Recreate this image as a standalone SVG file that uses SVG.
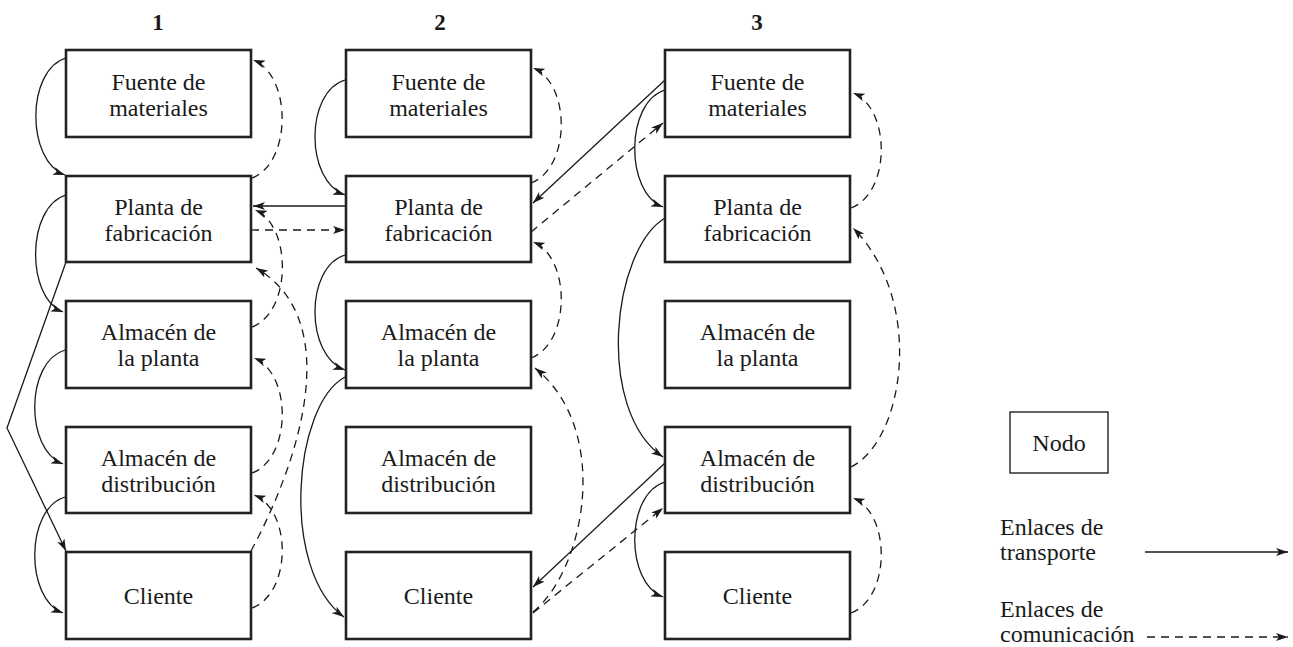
<svg xmlns="http://www.w3.org/2000/svg" width="1293" height="647" viewBox="0 0 1293 647">
<defs>
<marker id="ah" markerWidth="12" markerHeight="8" refX="12" refY="4" orient="auto" markerUnits="userSpaceOnUse">
<path d="M0,0 L12,4 L0,8 L3,4 z" fill="#1a1a1a"/>
</marker>
<style>
.box{fill:#fff;stroke:#222;stroke-width:2.6}
.lbox{fill:#fff;stroke:#222;stroke-width:1.4}
.t{font-family:"Liberation Serif","Times New Roman",serif;font-size:24px;fill:#1a1a1a;text-anchor:middle}
.tl{font-family:"Liberation Serif","Times New Roman",serif;font-size:24px;fill:#1a1a1a}
.h{font-family:"Liberation Serif","Times New Roman",serif;font-size:23px;font-weight:bold;fill:#1a1a1a;text-anchor:middle}
.s{fill:none;stroke:#1a1a1a;stroke-width:1.3;marker-end:url(#ah)}
.d{fill:none;stroke:#1a1a1a;stroke-width:1.3;stroke-dasharray:8 6;marker-end:url(#ah)}
</style>
</defs>
<rect width="1293" height="647" fill="#fff"/>

<g id="headers">
<text class="h" x="158" y="30">1</text>
<text class="h" x="440" y="30">2</text>
<text class="h" x="757" y="30">3</text>
</g>

<g id="connectors">
<!-- column 1 solid left -->
<path class="s" d="M66,58 C26,70 26,161 65,175"/>
<path class="s" d="M66,195 C26,207 26,298 63,312"/>
<path class="s" d="M65,350 C25,362 25,450 63,464"/>
<path class="s" d="M65,497 C25,509 25,599 63,613"/>
<path class="s" d="M66,262 L7,428 L66,551"/>
<!-- column 1 dashed right -->
<path class="d" d="M252,178 C292,163 292,75 253,60"/>
<path class="d" d="M252,327 C292,312 292,225 255,210"/>
<path class="d" d="M252,473 C292,458 292,373 254,358"/>
<path class="d" d="M252,608 C292,593 292,510 254,495"/>
<path class="d" d="M251,551 C300,460 345,320 256,268"/>
<!-- between columns 1 and 2 -->
<path class="s" d="M346,206 L253,206"/>
<path class="d" d="M251,230 L345,230"/>
<!-- column 2 solid left -->
<path class="s" d="M345,80 C305,92 305,181 345,195"/>
<path class="s" d="M345,255 C305,267 305,356 345,370"/>
<path class="s" d="M345,377 C293,405 280,570 344,617"/>
<!-- column 2 dashed right -->
<path class="d" d="M531,183 C571,168 571,83 533,68"/>
<path class="d" d="M531,358 C571,343 571,257 533,242"/>
<path class="d" d="M533,612 C585,570 612,430 535,368"/>
<!-- between columns 2 and 3 -->
<path class="s" d="M665,80 L533,203"/>
<path class="d" d="M531,232 L663,123"/>
<path class="s" d="M665,463 L533,587"/>
<path class="d" d="M533,613 L663,508"/>
<!-- column 3 solid left -->
<path class="s" d="M665,90 C625,102 625,193 663,207"/>
<path class="s" d="M665,218 C612,250 595,410 663,457"/>
<path class="s" d="M665,482 C625,494 625,583 663,597"/>
<!-- column 3 dashed right -->
<path class="d" d="M851,208 C891,193 891,108 853,93"/>
<path class="d" d="M851,467 C905,440 925,300 853,228"/>
<path class="d" d="M851,613 C891,598 891,513 853,498"/>
</g>

<g id="c1-fuente"><rect class="box" x="66" y="50" width="185" height="87"/><text class="t" x="158.5" y="90">Fuente de</text><text class="t" x="158.5" y="116">materiales</text></g>
<g id="c1-planta"><rect class="box" x="66" y="176" width="185" height="86"/><text class="t" x="158.5" y="215">Planta de</text><text class="t" x="158.5" y="241">fabricación</text></g>
<g id="c1-almplanta"><rect class="box" x="66" y="301" width="185" height="87"/><text class="t" x="158.5" y="340">Almacén de</text><text class="t" x="158.5" y="366">la planta</text></g>
<g id="c1-distrib"><rect class="box" x="66" y="427" width="185" height="86"/><text class="t" x="158.5" y="466">Almacén de</text><text class="t" x="158.5" y="492">distribución</text></g>
<g id="c1-cliente"><rect class="box" x="66" y="552" width="185" height="87"/><text class="t" x="158.5" y="604">Cliente</text></g>

<g id="c2-fuente"><rect class="box" x="346" y="50" width="185" height="87"/><text class="t" x="438.5" y="90">Fuente de</text><text class="t" x="438.5" y="116">materiales</text></g>
<g id="c2-planta"><rect class="box" x="346" y="176" width="185" height="86"/><text class="t" x="438.5" y="215">Planta de</text><text class="t" x="438.5" y="241">fabricación</text></g>
<g id="c2-almplanta"><rect class="box" x="346" y="301" width="185" height="87"/><text class="t" x="438.5" y="340">Almacén de</text><text class="t" x="438.5" y="366">la planta</text></g>
<g id="c2-distrib"><rect class="box" x="346" y="427" width="185" height="86"/><text class="t" x="438.5" y="466">Almacén de</text><text class="t" x="438.5" y="492">distribución</text></g>
<g id="c2-cliente"><rect class="box" x="346" y="552" width="185" height="87"/><text class="t" x="438.5" y="604">Cliente</text></g>

<g id="c3-fuente"><rect class="box" x="665" y="50" width="185" height="87"/><text class="t" x="757.5" y="90">Fuente de</text><text class="t" x="757.5" y="116">materiales</text></g>
<g id="c3-planta"><rect class="box" x="665" y="176" width="185" height="86"/><text class="t" x="757.5" y="215">Planta de</text><text class="t" x="757.5" y="241">fabricación</text></g>
<g id="c3-almplanta"><rect class="box" x="665" y="301" width="185" height="87"/><text class="t" x="757.5" y="340">Almacén de</text><text class="t" x="757.5" y="366">la planta</text></g>
<g id="c3-distrib"><rect class="box" x="665" y="427" width="185" height="86"/><text class="t" x="757.5" y="466">Almacén de</text><text class="t" x="757.5" y="492">distribución</text></g>
<g id="c3-cliente"><rect class="box" x="665" y="552" width="185" height="87"/><text class="t" x="757.5" y="604">Cliente</text></g>

<g id="legend">
<g id="legend-nodo"><rect class="lbox" x="1010" y="412" width="98" height="61"/><text class="t" x="1059" y="451">Nodo</text></g>
<text class="tl" x="1000" y="535">Enlaces de</text>
<text class="tl" x="1000" y="560">transporte</text>
<path class="s" d="M1145,552 L1288,552"/>
<text class="tl" x="1000" y="617">Enlaces de</text>
<text class="tl" x="1000" y="642">comunicación</text>
<path class="d" d="M1147,637 L1288,637"/>
</g>
</svg>
